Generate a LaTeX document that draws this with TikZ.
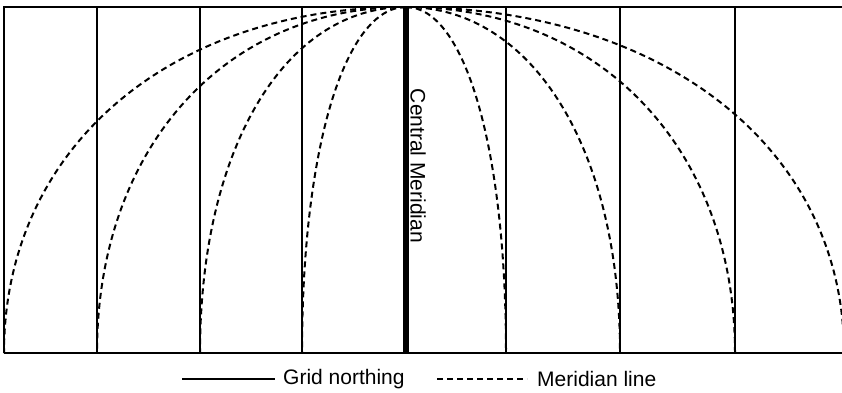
\documentclass[tikz,border=0pt]{standalone}
\usepackage{fontspec}
\setmainfont{Liberation Sans}
\begin{document}
\begin{tikzpicture}[x=1pt,y=-1pt,
  grid/.style={line width=1.2pt},
  meridian/.style={line width=2pt,dash pattern=on 6pt off 4pt},
  lbl/.style={font=\fontsize{21}{25}\selectfont,inner sep=0pt}]
\useasboundingbox (0,0) rectangle (842,392);
\coordinate (pole) at (406,7);
\draw[grid] (4,353) -- (4,7) -- (842,7);
\draw[grid] (4,353) -- (842,353);
\foreach \x in {97,200,302,506,620,735} \draw[grid] (\x,7) -- (\x,353);
\begin{scope}
\clip (0,0) rectangle (842,392);
\foreach \x in {4,97,200,302,506,620,735,844}
  \draw[meridian] (pole) .. controls ({406+0.59*(\x-406)},7) and (\x,149) .. (\x,353);
\end{scope}
\draw[line width=6.5pt] (pole) -- (406,353);
\node[lbl,rotate=-90] (cm) at (418,166) {Central Meridian};
\node[lbl,anchor=west] (gridtxt) at (283,379) {Grid northing};
\node[lbl,anchor=west] (mertxt) at (537,379) {Meridian line};
\coordinate (gridstart) at (182,379);
\coordinate (merstart) at (437,379);
\draw[grid] (gridstart) -- ([xshift=-8pt]gridtxt.west);
\draw[meridian] (merstart) -- ([xshift=-10pt]mertxt.west);
\end{tikzpicture}
\end{document}
